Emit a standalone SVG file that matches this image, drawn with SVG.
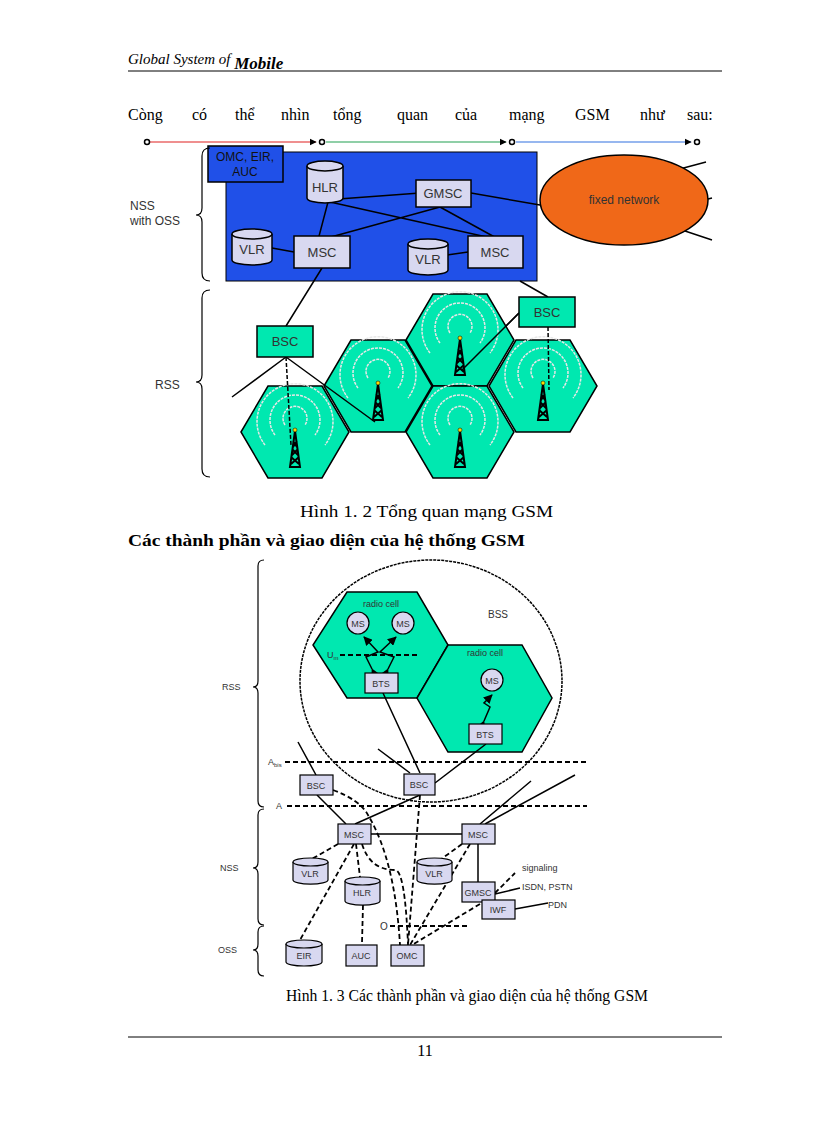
<svg xmlns="http://www.w3.org/2000/svg" width="816" height="1123" viewBox="0 0 816 1123">
<style>
.s{font-family:"Liberation Sans",Arial,sans-serif}
.t{font-family:"Liberation Serif","Times New Roman",serif;font-size:16px}
.bx{fill:#d8d8f0;stroke:#000;stroke-width:1.5}
.bx2{fill:#d8d8f0;stroke:#000;stroke-width:1.2}
.ln{stroke:#000;stroke-width:1.5;fill:none}
.dl{stroke:#000;stroke-width:1.8;fill:none;stroke-dasharray:5,3}
.hex{fill:#00e8b0;stroke:#000;stroke-width:1.5}
.arc{fill:none;stroke:#e8e8e8;stroke-width:1.5;stroke-dasharray:3,1}
.br{fill:none;stroke:#000;stroke-width:1.2}
</style>
<defs>
<marker id="ar" viewBox="0 0 10 10" refX="9" refY="5" markerWidth="6" markerHeight="6" orient="auto"><path d="M0,0 L10,5 L0,10 z" fill="#000"/></marker>
<g id="tower">
<path d="M0,-14 L-5,22 L5,22 Z M-2,-4 L2,2 M2,-4 L-2,2 M-3,4 L3,10 M3,4 L-3,10 M-4,12 L4,19 M4,12 L-4,19" fill="none" stroke="#000" stroke-width="2"/>
<circle cx="0" cy="-15" r="2" fill="#ffd800" stroke="#000" stroke-width="0.5"/>
</g>
<g id="waves">
<path class="arc" d="M-10,-5 A12,12 0 1 1 10,-5"/>
<path class="arc" d="M-20,5 A25,25 0 1 1 20,5"/>
<path class="arc" d="M-30,15 A38,38 0 1 1 30,15"/>
</g>
</defs>

<!-- header -->
<text x="128" y="64" font-family="Liberation Serif,serif" font-style="italic" font-size="15">Global System of <tspan font-weight="bold" font-size="17" dy="5">Mobile</tspan></text>
<line x1="128" y1="71" x2="722" y2="71" stroke="#000" stroke-width="1"/>
<text y="120" class="t" font-size="18"><tspan x="128">Còng</tspan><tspan x="192">có</tspan><tspan x="235">thể</tspan><tspan x="281">nhìn</tspan><tspan x="333">tổng</tspan><tspan x="397">quan</tspan><tspan x="455">của</tspan><tspan x="509">mạng</tspan><tspan x="575">GSM</tspan><tspan x="640">như</tspan><tspan x="687">sau:</tspan></text>

<!-- diagram 1 -->
<g id="d1-topline">
<line x1="147" y1="142" x2="316" y2="142" stroke="#e02020" stroke-width="1.2" marker-end="url(#ar)"/>
<line x1="326" y1="142" x2="506" y2="142" stroke="#20a050" stroke-width="1.2" marker-end="url(#ar)"/>
<line x1="516" y1="142" x2="691" y2="142" stroke="#3070e0" stroke-width="1.2" marker-end="url(#ar)"/>
<g fill="#fff" stroke="#000" stroke-width="1.5"><circle cx="147" cy="142" r="2.5"/><circle cx="322" cy="142" r="2.5"/><circle cx="512" cy="142" r="2.5"/><circle cx="697" cy="142" r="2.5"/></g>
</g>
<rect x="226" y="152" width="311" height="129" fill="#2050e8" stroke="#000" stroke-width="1"/>
<g id="omc1"><rect x="208" y="146" width="75" height="36" fill="#2050e8" stroke="#000" stroke-width="1.5"/><text x="245" y="161" class="s" font-size="12" text-anchor="middle" fill="#111">OMC, EIR,</text><text x="245" y="176" class="s" font-size="12" text-anchor="middle" fill="#111">AUC</text></g>
<g id="d1-connectors" class="ln">
<path d="M325,200 L420,193 M330,202 L500,240 M328,202 L318,240 M320,240 L440,207 M440,207 L500,240 M272,248 L294,252 M447,255 L468,252 M471,193 L540,205 M322,268 L286,326 M520,281 L548,297 M286,357 L232,397 M519,313 L462,370 M676,170 L706,162 M708,199 L712,198 M676,228 L712,240"/>
</g>
<g id="hlr1"><path d="M307,166 v32 a18,5 0 0 0 36,0 v-32" class="bx"/><ellipse cx="325" cy="166" rx="18" ry="5" class="bx"/><text x="325" y="192" class="s" font-size="13" text-anchor="middle" fill="#333">HLR</text></g>
<g id="gmsc1"><rect x="416" y="180" width="55" height="27" class="bx"/><text x="443" y="198" class="s" font-size="13" text-anchor="middle" fill="#333">GMSC</text></g>
<g id="vlr1a"><path d="M232,234 v26 a20,5 0 0 0 40,0 v-26" class="bx"/><ellipse cx="252" cy="234" rx="20" ry="5" class="bx"/><text x="252" y="254" class="s" font-size="13" text-anchor="middle" fill="#333">VLR</text></g>
<g id="msc1a"><rect x="294" y="236" width="56" height="32" class="bx"/><text x="322" y="257" class="s" font-size="13" text-anchor="middle" fill="#333">MSC</text></g>
<g id="vlr1b"><path d="M408,244 v26 a20,5 0 0 0 40,0 v-26" class="bx"/><ellipse cx="428" cy="244" rx="20" ry="5" class="bx"/><text x="428" y="264" class="s" font-size="13" text-anchor="middle" fill="#333">VLR</text></g>
<g id="msc1b"><rect x="468" y="236" width="55" height="32" class="bx"/><text x="495" y="257" class="s" font-size="13" text-anchor="middle" fill="#333">MSC</text></g>
<g id="fixed"><ellipse cx="624" cy="200" rx="84" ry="45" fill="#f06818" stroke="#000" stroke-width="1.5"/><text x="624" y="204" class="s" font-size="12" text-anchor="middle" fill="#333">fixed network</text></g>
<path class="br" d="M210,148 q-8,0 -8,8 v52 q0,7 -6,7 q6,0 6,7 v51 q0,8 8,8"/>
<text x="130" y="210" class="s" font-size="12" fill="#333">NSS</text><text x="130" y="225" class="s" font-size="12" fill="#333">with OSS</text>
<path class="br" d="M210,290 q-8,0 -8,8 v77 q0,7 -6,7 q6,0 6,7 v80 q0,8 8,8"/>
<text x="155" y="389" class="s" font-size="12" fill="#333">RSS</text>
<g id="cells">
<polygon class="hex" points="241,432 268,386 322,386 349,432 322,478 268,478"/>
<polygon class="hex" points="324,386 351,340 405,340 432,386 405,432 351,432"/>
<polygon class="hex" points="406,340 433,294 487,294 514,340 487,386 433,386"/>
<polygon class="hex" points="406,432 433,386 487,386 514,432 487,478 433,478"/>
<polygon class="hex" points="489,386 516,340 570,340 597,386 570,432 516,432"/>
<use href="#waves" x="295" y="430"/><use href="#waves" x="378" y="383"/><use href="#waves" x="460" y="338"/><use href="#waves" x="460" y="430"/><use href="#waves" x="543" y="383"/>
<use href="#tower" x="295" y="445"/><use href="#tower" x="378" y="398"/><use href="#tower" x="460" y="353"/><use href="#tower" x="460" y="445"/><use href="#tower" x="543" y="398"/>
</g>
<g id="d1-cell-links">
<path d="M286,357 L291,445 M548,327 L549,390" class="ln" stroke-dasharray="4,2"/>
<path d="M286,357 L375,422 M519,313 L462,370" class="ln"/>
</g>
<g id="bsc1a"><rect x="257" y="326" width="56" height="31" fill="#00e8b0" stroke="#000" stroke-width="1.5"/><text x="285" y="346" class="s" font-size="13" text-anchor="middle" fill="#333">BSC</text></g>
<g id="bsc1b"><rect x="519" y="297" width="56" height="30" fill="#00e8b0" stroke="#000" stroke-width="1.5"/><text x="547" y="317" class="s" font-size="13" text-anchor="middle" fill="#333">BSC</text></g>

<text x="300" y="517" class="t" font-size="17" textLength="253" lengthAdjust="spacingAndGlyphs">Hình 1. 2 Tổng quan mạng GSM</text>
<text x="128" y="546" class="t" font-size="17" font-weight="bold" textLength="397" lengthAdjust="spacingAndGlyphs">Các thành phần và giao diện của hệ thống GSM</text>

<!-- diagram 2 -->
<ellipse cx="431" cy="681" rx="131" ry="121" fill="none" stroke="#000" stroke-width="1.5" stroke-dasharray="3,1"/>
<polygon class="hex" points="347,592 417,592 448,645 417,698 347,698 313,645"/>
<polygon class="hex" points="448,645 522,645 552,698 522,752 448,752 417,698"/>
<text x="381" y="607" class="s" font-size="9" text-anchor="middle" fill="#333">radio cell</text>
<text x="485" y="656" class="s" font-size="9" text-anchor="middle" fill="#333">radio cell</text>
<text x="498" y="618" class="s" font-size="10" text-anchor="middle" fill="#333">BSS</text>
<text x="327" y="658" class="s" font-size="9" fill="#333">U<tspan font-size="6" dy="2">m</tspan></text>
<g id="d2-connectors">
<line x1="340" y1="655" x2="418" y2="655" class="dl" stroke-width="1.2"/>
<path d="M372,669 L366,657 L378,652 L364,637" class="ln" marker-end="url(#ar)" marker-start="url(#ar)"/>
<path d="M388,669 L394,657 L380,652 L396,637" class="ln" marker-end="url(#ar)" marker-start="url(#ar)"/>
<path d="M484,721 L490,707 L484,703 L492,695" class="ln" marker-end="url(#ar)" marker-start="url(#ar)"/>
<line x1="285" y1="762" x2="587" y2="762" class="dl" stroke-width="1.2"/>
<line x1="287" y1="806" x2="587" y2="806" class="dl" stroke-width="1.2"/>
<line x1="390" y1="926" x2="470" y2="926" class="dl" stroke-width="1.2"/>
<path class="ln" d="M383,693 L420,773 M486,744 L435,783 M298,742 L316,775 M378,749 L410,773 M317,795 L346,824 M420,795 L355,824 M371,834 L462,834 M531,781 L480,824 M575,775 L485,824 M478,844 L478,882 M515,909 L548,903 M495,894 L520,888"/>
<path class="dl" d="M333,790 Q360,800 368,815 Q395,860 400,945 M420,795 L408,945 M338,844 L310,860 M354,844 L300,940 M356,844 L360,877 M362,844 Q370,870 395,870 Q405,870 408,945 M462,844 L440,860 M470,844 L410,945 M480,904 L412,945 M363,905 L362,943 M495,893 L515,873"/>
</g>
<text x="268" y="765" class="s" font-size="9" fill="#333">A<tspan font-size="6" dy="2">bis</tspan></text>
<text x="276" y="809" class="s" font-size="9" fill="#333">A</text>
<text x="380" y="930" class="s" font-size="10" fill="#333">O</text>
<g id="ms1"><circle cx="358" cy="623" r="11" class="bx2"/><text x="358" y="627" class="s" font-size="9" text-anchor="middle" fill="#333">MS</text></g>
<g id="ms2"><circle cx="403" cy="623" r="11" class="bx2"/><text x="403" y="627" class="s" font-size="9" text-anchor="middle" fill="#333">MS</text></g>
<g id="ms3"><circle cx="492" cy="680" r="11" class="bx2"/><text x="492" y="684" class="s" font-size="9" text-anchor="middle" fill="#333">MS</text></g>
<g id="bts1"><rect x="365" y="673" width="33" height="20" class="bx2"/><text x="381" y="687" class="s" font-size="9" text-anchor="middle" fill="#333">BTS</text></g>
<g id="bts2"><rect x="469" y="724" width="33" height="20" class="bx2"/><text x="485" y="738" class="s" font-size="9" text-anchor="middle" fill="#333">BTS</text></g>
<g id="bsc2a"><rect x="300" y="775" width="33" height="20" class="bx2"/><text x="316" y="789" class="s" font-size="9" text-anchor="middle" fill="#333">BSC</text></g>
<g id="bsc2b"><rect x="404" y="774" width="31" height="21" class="bx2"/><text x="419" y="788" class="s" font-size="9" text-anchor="middle" fill="#333">BSC</text></g>
<g id="msc2a"><rect x="338" y="824" width="33" height="20" class="bx2"/><text x="354" y="838" class="s" font-size="9" text-anchor="middle" fill="#333">MSC</text></g>
<g id="msc2b"><rect x="462" y="824" width="33" height="20" class="bx2"/><text x="478" y="838" class="s" font-size="9" text-anchor="middle" fill="#333">MSC</text></g>
<g id="vlr2a"><path d="M293,862 v18 a17,4 0 0 0 35,0 v-18" class="bx2"/><ellipse cx="310.5" cy="862" rx="17.5" ry="4" class="bx2"/><text x="310" y="877" class="s" font-size="9" text-anchor="middle" fill="#333">VLR</text></g>
<g id="hlr2"><path d="M345,881 v20 a17,4 0 0 0 35,0 v-20" class="bx2"/><ellipse cx="362.5" cy="881" rx="17.5" ry="4" class="bx2"/><text x="362" y="896" class="s" font-size="9" text-anchor="middle" fill="#333">HLR</text></g>
<g id="vlr2b"><path d="M417,862 v18 a17,4 0 0 0 35,0 v-18" class="bx2"/><ellipse cx="434.5" cy="862" rx="17.5" ry="4" class="bx2"/><text x="434" y="877" class="s" font-size="9" text-anchor="middle" fill="#333">VLR</text></g>
<g id="gmsc2"><rect x="462" y="882" width="33" height="20" class="bx2"/><text x="478" y="896" class="s" font-size="9" text-anchor="middle" fill="#333">GMSC</text></g>
<g id="iwf"><rect x="482" y="900" width="33" height="19" class="bx2"/><text x="498" y="913" class="s" font-size="9" text-anchor="middle" fill="#333">IWF</text></g>
<g id="eir"><path d="M286,944 v18 a18,4 0 0 0 36,0 v-18" class="bx2"/><ellipse cx="304" cy="944" rx="18" ry="4" class="bx2"/><text x="304" y="959" class="s" font-size="9" text-anchor="middle" fill="#333">EIR</text></g>
<g id="auc"><rect x="346" y="945" width="31" height="21" class="bx2"/><text x="361" y="959" class="s" font-size="9" text-anchor="middle" fill="#333">AUC</text></g>
<g id="omc2"><rect x="391" y="945" width="33" height="21" class="bx2"/><text x="407" y="959" class="s" font-size="9" text-anchor="middle" fill="#333">OMC</text></g>
<text x="522" y="871" class="s" font-size="9" fill="#333">signaling</text>
<text x="522" y="890" class="s" font-size="9" fill="#333">ISDN, PSTN</text>
<text x="548" y="908" class="s" font-size="9" fill="#333">PDN</text>
<path class="br" d="M264,560 q-6,0 -6,6 v115 q0,6 -5,6 q5,0 5,6 v108 q0,6 6,6"/>
<text x="222" y="690" class="s" font-size="9" fill="#333">RSS</text>
<path class="br" d="M264,809 q-6,0 -6,6 v47 q0,6 -5,6 q5,0 5,6 v45 q0,6 6,6"/>
<text x="220" y="871" class="s" font-size="9" fill="#333">NSS</text>
<path class="br" d="M264,926 q-6,0 -6,6 v12 q0,6 -5,6 q5,0 5,6 v14 q0,6 6,6"/>
<text x="218" y="953" class="s" font-size="9" fill="#333">OSS</text>

<text x="286" y="1001" class="t" font-size="17" textLength="362" lengthAdjust="spacingAndGlyphs">Hình 1. 3 Các thành phần và giao diện của hệ thống GSM</text>
<line x1="128" y1="1037" x2="722" y2="1037" stroke="#000" stroke-width="1"/>
<text x="425" y="1056" class="t" text-anchor="middle" font-size="14">11</text>
</svg>
